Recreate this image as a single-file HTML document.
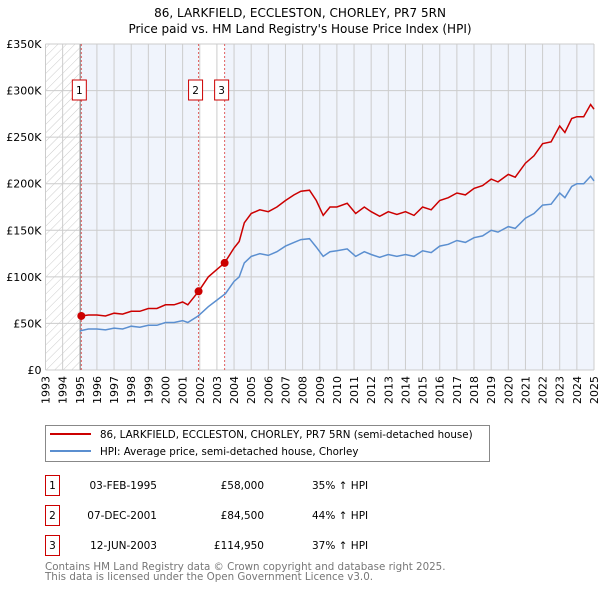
<!DOCTYPE html>
<html><head><meta charset="utf-8"><style>
body{margin:0;background:#fff;width:600px;height:590px;overflow:hidden;font-family:"DejaVu Sans","Liberation Sans",sans-serif;}
svg text{font-family:"DejaVu Sans","Liberation Sans",sans-serif;}
</style></head><body>
<svg id="chart" width="600" height="590" viewBox="0 0 600 590" xmlns="http://www.w3.org/2000/svg">
<defs><pattern id="hatch" width="6" height="6" patternUnits="userSpaceOnUse" patternTransform="rotate(45)"><line x1="0" y1="0" x2="0" y2="6" stroke="#ccc" stroke-width="1"/></pattern></defs>
<text x="300" y="17" text-anchor="middle" font-size="12">86, LARKFIELD, ECCLESTON, CHORLEY, PR7 5RN</text>
<text x="300" y="33" text-anchor="middle" font-size="12">Price paid vs. HM Land Registry's House Price Index (HPI)</text>
<g id="plot"></g>
<g>
<rect x="45.5" y="425.5" width="444" height="36" fill="#fff" stroke="#888"/>
<line x1="50" y1="434" x2="91" y2="434" stroke="#cc0000" stroke-width="2"/>
<text x="100" y="438" font-size="10.3">86, LARKFIELD, ECCLESTON, CHORLEY, PR7 5RN (semi-detached house)</text>
<line x1="50" y1="451" x2="91" y2="451" stroke="#5b8fd0" stroke-width="2"/>
<text x="100" y="455" font-size="10.3">HPI: Average price, semi-detached house, Chorley</text>
</g>
<g id="table" font-size="10.5"></g>
<text x="45" y="570" font-size="10.3" fill="#777">Contains HM Land Registry data © Crown copyright and database right 2025.</text>
<text x="45" y="580" font-size="10.3" fill="#777">This data is licensed under the Open Government Licence v3.0.</text>
</svg>
<script>
const hpiYears=[1995.0,1995.5,1996,1996.5,1997,1997.5,1998,1998.5,1999,1999.5,2000,2000.5,2001,2001.3,2001.9,2002.5,2003,2003.5,2004,2004.3,2004.6,2005,2005.5,2006,2006.5,2007,2007.5,2007.9,2008.4,2008.8,2009.2,2009.6,2010,2010.6,2011.1,2011.6,2012,2012.5,2013,2013.5,2014,2014.5,2015,2015.5,2016,2016.5,2017,2017.5,2018,2018.5,2019,2019.4,2020,2020.4,2021,2021.5,2022,2022.5,2023,2023.3,2023.7,2024,2024.4,2024.8,2025];
const hpiValues=[42,44,44,43,45,44,47,46,48,48,51,51,53,51,58,68,75,82,95,100,115,122,125,123,127,133,137,140,141,132,122,127,128,130,122,127,124,121,124,122,124,122,128,126,133,135,139,137,142,144,150,148,154,152,163,168,177,178,190,185,197,200,200,208,203];
const redYears=[1995.09,1995.5,1996,1996.5,1997,1997.5,1998,1998.5,1999,1999.5,2000,2000.5,2001,2001.3,2001.93,2002.5,2003,2003.45,2004,2004.3,2004.6,2005,2005.5,2006,2006.5,2007,2007.5,2007.9,2008.4,2008.8,2009.2,2009.6,2010,2010.6,2011.1,2011.6,2012,2012.5,2013,2013.5,2014,2014.5,2015,2015.5,2016,2016.5,2017,2017.5,2018,2018.5,2019,2019.4,2020,2020.4,2021,2021.5,2022,2022.5,2023,2023.3,2023.7,2024,2024.4,2024.8,2025];
const redValues=[58,59,59,58,61,60,63,63,66,66,70,70,73,70,84.5,100,108,115,131,138,158,168,172,170,175,182,188,192,193,182,166,175,175,179,168,175,170,165,170,167,170,166,175,172,182,185,190,188,195,198,205,202,210,207,222,230,243,245,262,255,270,272,272,285,280];
const sales=[{n:"1",year:1995.09,price:58000,date:"03-FEB-1995",pct:"35%"},{n:"2",year:2001.93,price:84500,date:"07-DEC-2001",pct:"44%"},{n:"3",year:2003.45,price:114950,date:"12-JUN-2003",pct:"37%"}];
const yTicks=[0,50,100,150,200,250,300,350];
const yTickLabels=["£0","£50K","£100K","£150K","£200K","£250K","£300K","£350K"];
const xStart=1993,xEnd=2025;
const L=45.5,R=594,T=44,B=370;
const sx=y=>L+(y-xStart)/(xEnd-xStart)*(R-L);
const sy=v=>B-v/350*(B-T);
const NS="http://www.w3.org/2000/svg";
const plot=document.getElementById('plot');
function mk(tag,attrs,parent){const e=document.createElementNS(NS,tag);for(const k in attrs)e.setAttribute(k,attrs[k]);(parent||plot).appendChild(e);return e;}
let e;
e=mk('rect',{x:L,y:T,width:R-L,height:B-T,fill:'#f0f4fc'});


e=mk('rect',{x:L,y:T,width:sx(sales[0].year)-L,height:B-T,fill:'#fff'});
e=mk('rect',{x:L,y:T,width:sx(sales[0].year)-L,height:B-T,fill:'url(#hatch)'});


e=mk('rect',{x:sx(sales[1].year),y:T,width:sx(sales[2].year)-sx(sales[1].year),height:B-T,fill:'#fff'});


for(let y=xStart;y<=xEnd;y++){
 e=mk('line',{x1:sx(y),x2:sx(y),y1:T,y2:B,stroke:'#ccc','stroke-width':1});
 
 
 e=mk('text',{x:0,y:0,'font-size':11,'text-anchor':'end',transform:`translate(${sx(y)+4},${B+6}) rotate(-90)`});
 e.textContent=y;
 
 
}
yTicks.forEach((v,i)=>{
 e=mk('line',{x1:L,x2:R,y1:sy(v),y2:sy(v),stroke:'#ccc','stroke-width':1});
 
 
 e=mk('text',{x:L-4,y:sy(v)+4,'font-size':11,'text-anchor':'end'});
 e.textContent=yTickLabels[i];
 
 
});
e=mk('line',{x1:sx(sales[0].year)-1,x2:sx(sales[0].year)-1,y1:T,y2:B,stroke:'#888','stroke-width':1});
sales.forEach(s=>{
 e=mk('line',{x1:sx(s.year),x2:sx(s.year),y1:T,y2:B,stroke:'#e06060','stroke-width':1,'stroke-dasharray':'2,2'});
 
 
});
const pts=(xs,vs)=>xs.map((x,i)=>sx(x).toFixed(1)+','+sy(vs[i]).toFixed(1)).join(' ');
e=mk('polyline',{points:pts(hpiYears,hpiValues),fill:'none',stroke:'#5b8fd0','stroke-width':1.5});


e=mk('polyline',{points:pts(redYears,redValues),fill:'none',stroke:'#cc0000','stroke-width':1.5});


sales.forEach((s,i)=>{
 e=mk('circle',{cx:sx(s.year),cy:sy(s.price/1000),r:4,fill:'#cc0000'});
 
 
 const off=i==0?-9:-10;
 e=mk('rect',{x:sx(s.year)+off,y:80,width:14,height:20,fill:'#fff',stroke:'#cc0000'});
 
 
 e=mk('text',{x:sx(s.year)+off+7,y:94,'font-size':10.5,'text-anchor':'middle'});
 e.textContent=s.n;
 
 
});
const tbl=document.getElementById('table');
sales.forEach((s,i)=>{
 const y=475+i*30;
 e=mk('rect',{x:45.5,y:y+0.5,width:14,height:20,fill:'#fff',stroke:'#cc0000'},tbl);
 
 
 e=mk('text',{x:52.5,y:y+14,'text-anchor':'middle'},tbl);e.textContent=s.n;
 
 
 e=mk('text',{x:157,y:y+14,'text-anchor':'end'},tbl);e.textContent=s.date;
 
 
 e=mk('text',{x:264,y:y+14,'text-anchor':'end'},tbl);e.textContent='£'+s.price.toLocaleString('en-GB');
 
 
 e=mk('text',{x:312,y:y+14},tbl);e.textContent=s.pct+' \u2191 HPI';
 
 
});
</script>
</body></html>
